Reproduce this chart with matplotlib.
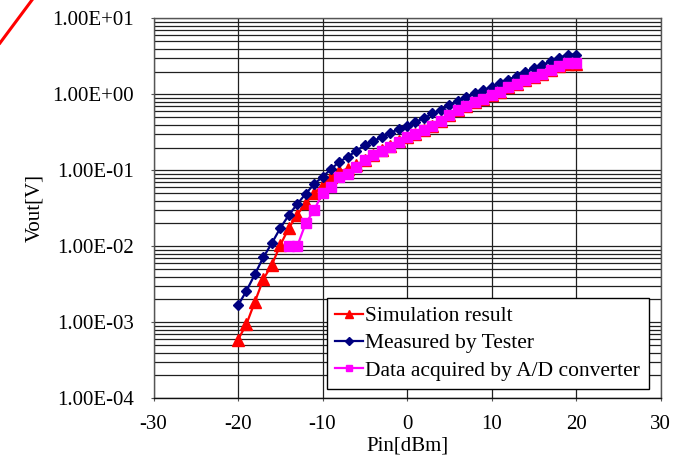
import matplotlib.pyplot as plt
from matplotlib.lines import Line2D
from matplotlib.ticker import FixedLocator, LogLocator, NullFormatter

plt.rcParams['font.family'] = ['Liberation Serif', 'DejaVu Serif']
plt.rcParams['axes.unicode_minus'] = False

# input power sweep [dBm]
pin_sim = list(range(-20, 21))
pin_tester = list(range(-20, 21))
pin_adc = list(range(-14, 21))

# simulated output voltage [V]
vout_sim = [5.9e-4, 9.5e-4, 1.87e-3, 3.7e-3, 5.7e-3, 1.04e-2, 1.73e-2, 2.6e-2,
            3.7e-2, 5.0e-2, 6.4e-2, 8.2e-2, 0.097, 0.105, 0.117, 0.138, 0.161,
            0.183, 0.207, 0.24, 0.273, 0.301, 0.34, 0.384, 0.45, 0.539, 0.616,
            0.70, 0.785, 0.875, 0.97, 1.09, 1.24, 1.38, 1.53, 1.69, 1.87, 2.09,
            2.36, 2.48, 2.48]

# output voltage measured by tester [V]
vout_tester = [1.67e-3, 2.6e-3, 4.3e-3, 7.2e-3, 1.1e-2, 1.74e-2, 2.57e-2,
               3.6e-2, 4.9e-2, 6.6e-2, 8.2e-2, 0.104, 0.130, 0.151, 0.181,
               0.215, 0.245, 0.272, 0.312, 0.349, 0.386, 0.436, 0.483, 0.562,
               0.622, 0.723, 0.816, 0.913, 1.03, 1.14, 1.26, 1.42, 1.57, 1.74,
               1.98, 2.2, 2.43, 2.74, 3.03, 3.35, 3.35]

# output voltage read back through the A/D converter [V]
vout_adc = [0.01, 0.01, 0.02, 0.03, 0.05, 0.06, 0.082, 0.09, 0.111, 0.135,
            0.159, 0.181, 0.205, 0.238, 0.272, 0.30, 0.339, 0.383, 0.45,
            0.539, 0.616, 0.70, 0.785, 0.875, 0.97, 1.09, 1.24, 1.38, 1.53,
            1.69, 1.87, 2.09, 2.36, 2.56, 2.56]

x_ticks = [-30, -20, -10, 0, 10, 20, 30]
y_ticks = [1e-4, 1e-3, 1e-2, 1e-1, 1e0, 1e1]
y_labels = ['1.00E-04', '1.00E-03', '1.00E-02', '1.00E-01', '1.00E+00', '1.00E+01']

fig = plt.figure(figsize=(6.79, 4.61), dpi=100)
ax = fig.add_axes([0.2261, 0.136, 0.7467, 0.824])

ax.plot(pin_sim, vout_sim, color='#FF0000', lw=1.6, marker='^', ms=8,
        label='Simulation result', zorder=3)
ax.plot(pin_tester, vout_tester, color='#000080', lw=1.6, marker='D', ms=5.5,
        label='Measured by Tester', zorder=4)
ax.plot(pin_adc, vout_adc, color='#FF00FF', lw=1.6, marker='s', ms=7,
        label='Data acquired by A/D converter', zorder=5)

ax.set_yscale('log')
ax.set_xlim(-30, 30)
ax.set_ylim(1e-4, 1e1)
ax.xaxis.set_major_locator(FixedLocator(x_ticks))
ax.yaxis.set_major_locator(FixedLocator(y_ticks))
ax.set_yticklabels(y_labels)
ax.yaxis.set_minor_locator(LogLocator(base=10, subs=range(2, 10)))
ax.yaxis.set_minor_formatter(NullFormatter())

ax.grid(True, which='major', axis='both', color='#202020', lw=0.9)
ax.grid(True, which='minor', axis='y', color='#202020', lw=0.9)
ax.set_axisbelow(True)

for s in ax.spines.values():
    s.set_color('#555555')
    s.set_linewidth(1.0)
ax.spines['bottom'].set_color('#111111')

ax.tick_params(axis='both', which='major', labelsize=15, direction='out',
               length=2, color='#555555')
ax.tick_params(axis='y', which='major', pad=12)
ax.tick_params(axis='x', which='major', pad=10)
ax.tick_params(axis='y', which='minor', length=0)

ax.set_xlabel('Pin[dBm]', fontsize=15, labelpad=2)
ax.set_ylabel('Vout[V]', fontsize=15)
ax.yaxis.set_label_coords(-0.215, 0.5)

leg = ax.legend(loc='lower right', bbox_to_anchor=(0.977, 0.024),
                fontsize=15.5, frameon=True, fancybox=False, framealpha=1,
                edgecolor='black', handlelength=1.3, handletextpad=0.1,
                labelspacing=0.33, borderpad=0.4, borderaxespad=0,
                markerscale=0.7)
leg.get_frame().set_linewidth(1.0)

# stray red stroke in the top-left corner
fig.add_artist(Line2D([0, 32 / 679], [1 - 43 / 461, 1], color='#FF0000',
                      lw=2.2, transform=fig.transFigure))

fig.savefig('out.png', dpi=100)
